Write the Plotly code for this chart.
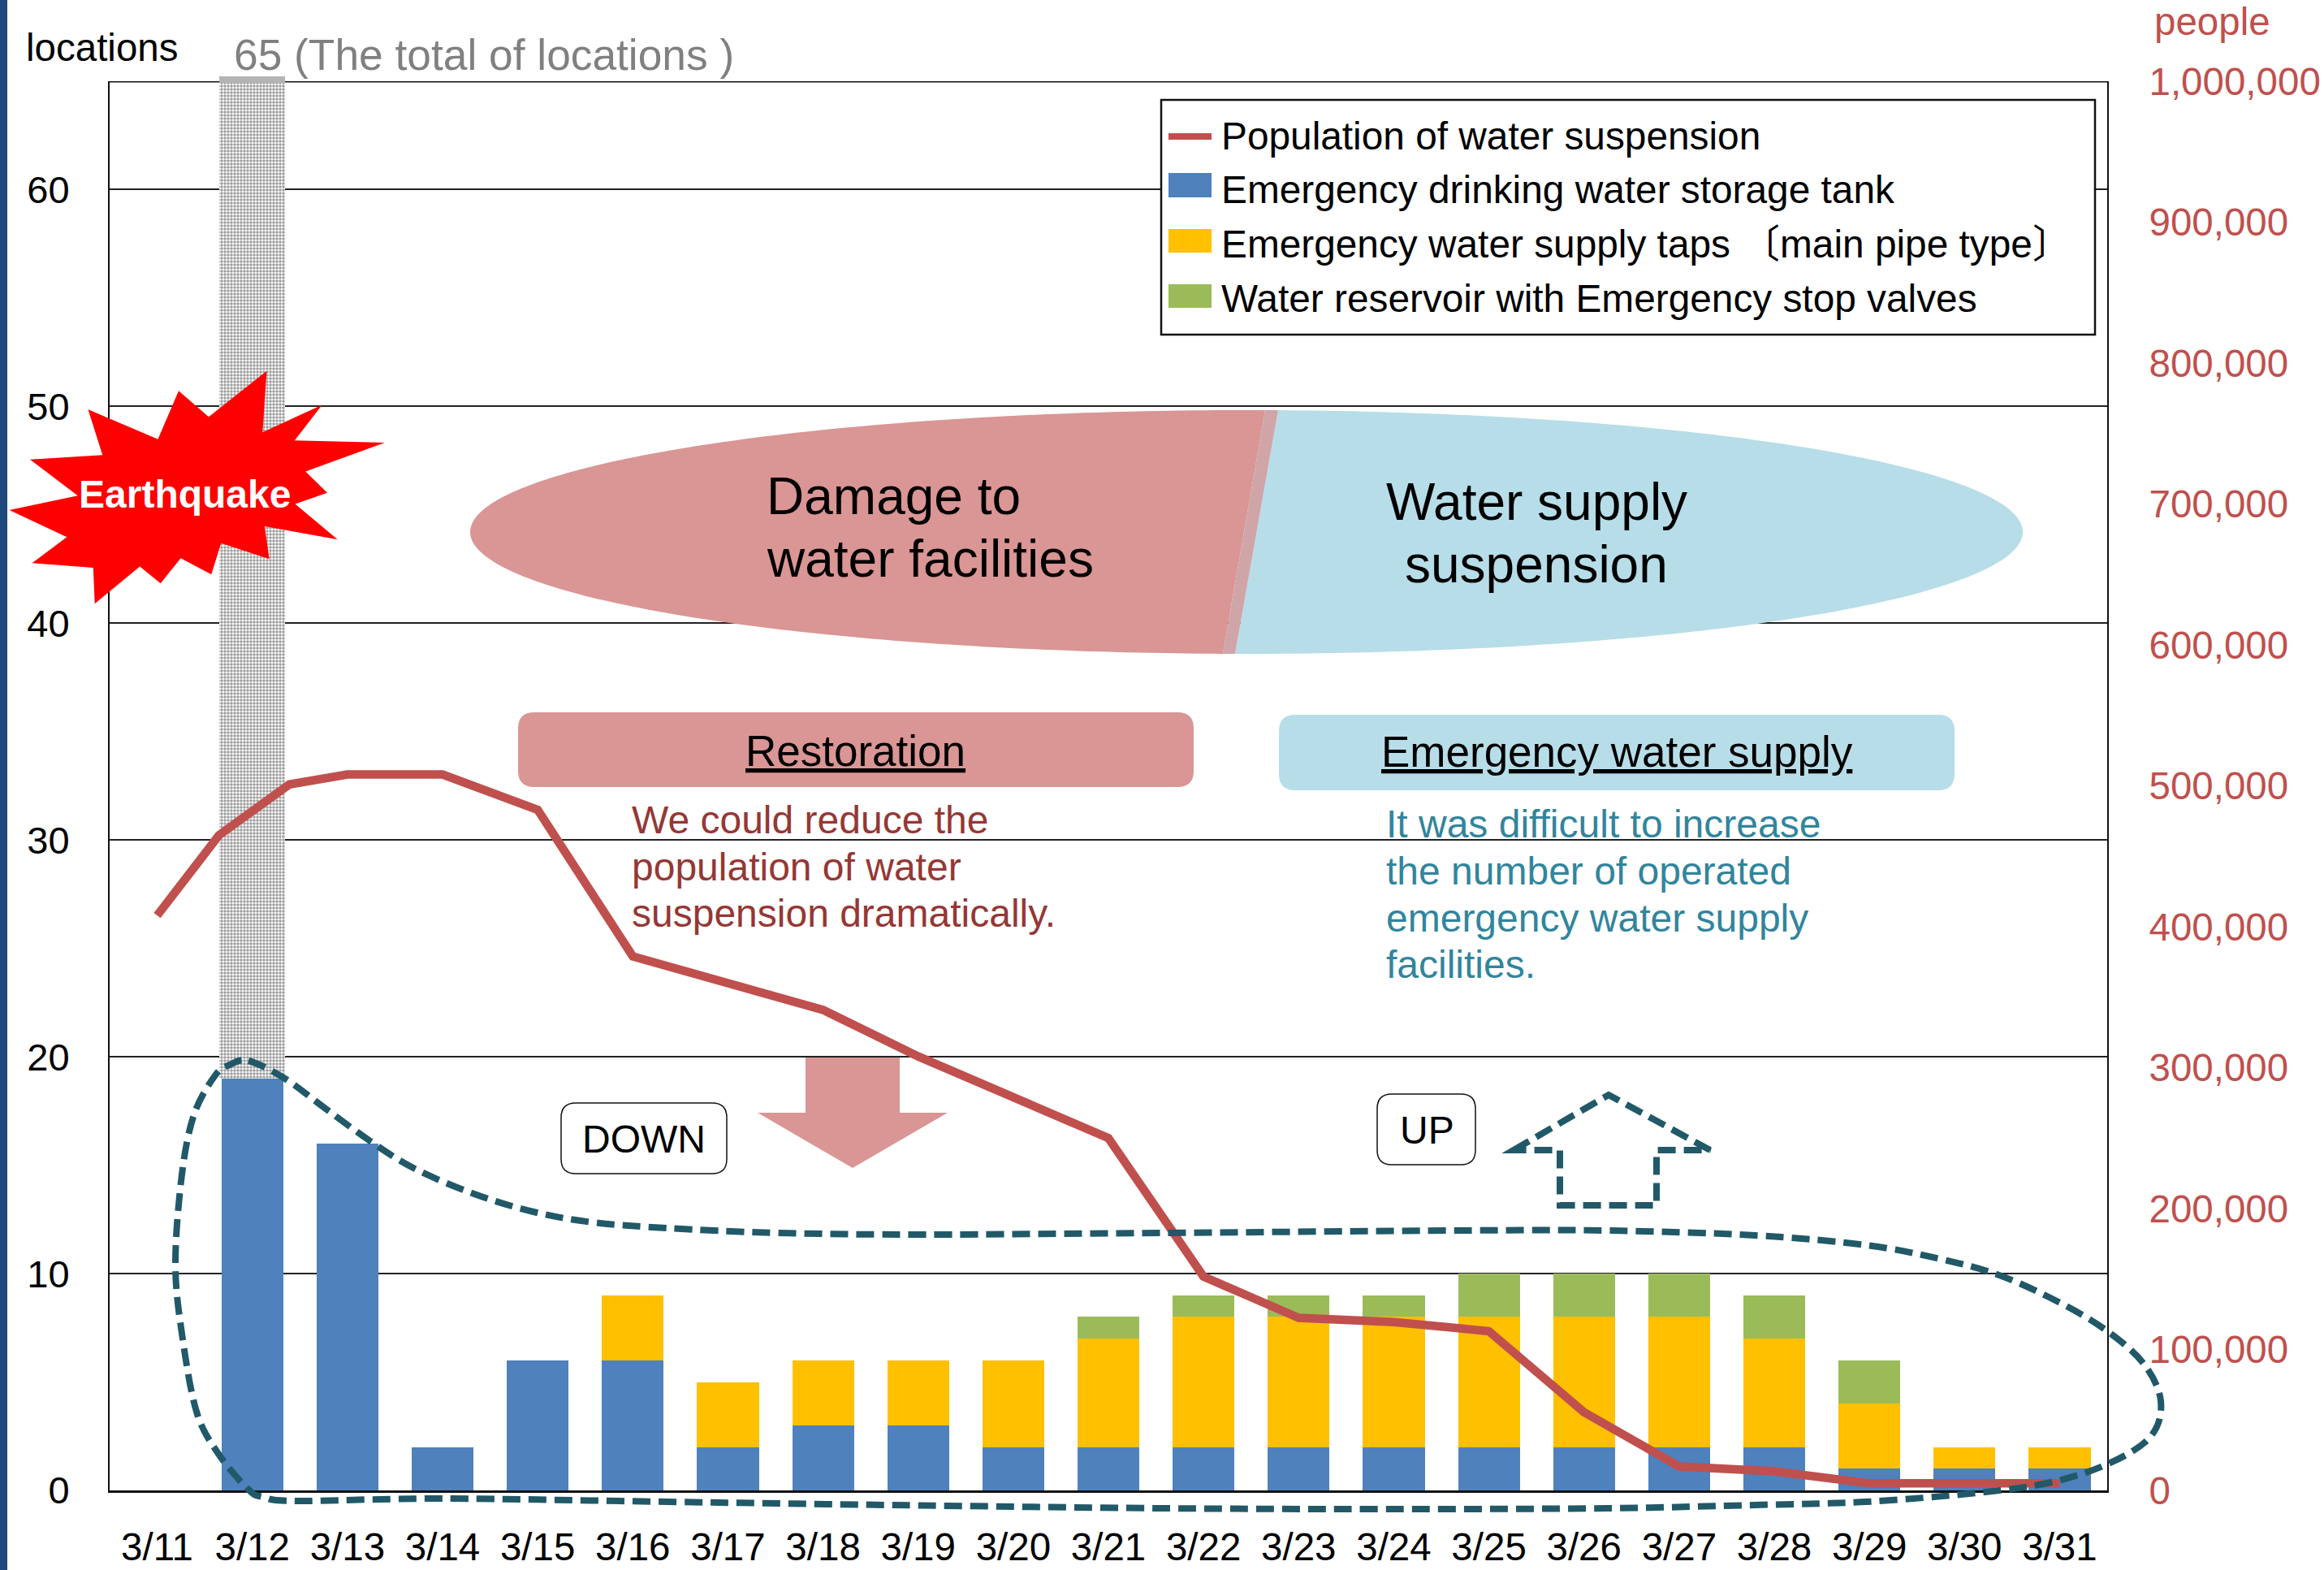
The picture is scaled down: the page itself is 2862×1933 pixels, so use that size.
import math
import numpy as np
import plotly.graph_objects as go

# ---------- data ----------
dates = ["3/11","3/12","3/13","3/14","3/15","3/16","3/17","3/18","3/19","3/20","3/21",
         "3/22","3/23","3/24","3/25","3/26","3/27","3/28","3/29","3/30","3/31"]
storage_tank = [0,19,16,2,6,6,2,3,3,2,2,2,2,2,2,2,2,2,1,1,1]
supply_taps  = [0,0,0,0,0,3,3,3,3,4,5,6,6,6,6,6,6,5,3,1,1]
reservoir    = [0,0,0,0,0,0,0,0,0,0,1,1,1,1,2,2,2,2,2,0,0]
remaining    = [0,46,0,0,0,0,0,0,0,0,0,0,0,0,0,0,0,0,0,0,0]
line_pos = [0,0.65,1.39,2,3,4,5,6,7,8,9,10,11,12,13,14,15,16,17,18,19,20]
population = [408000,465000,501000,508000,508000,483000,379000,360000,341000,308000,279000,
              250000,151700,122500,119500,113000,55500,17000,13500,5000,5000,5000]
left_ticks = [0,10,20,30,40,50,60]
right_ticks = [0,100000,200000,300000,400000,500000,600000,700000,800000,900000,1000000]
legend_labels = ["Population of water suspension","Emergency drinking water storage tank",
                 "Emergency water supply taps 〔main pipe type〕","Water reservoir with Emergency stop valves"]

# ---------- page geometry ----------
W, H = 2862, 1933
L, R, T, B = 135, 2595, 100, 1835
FONT = "Liberation Sans, Arial, Noto Sans CJK JP, sans-serif"
BLUE, YEL, GRN, RED = "#4F81BD", "#FFC000", "#9BBB59", "#C0504D"
PINK, SKY, TEAL = "#D99694", "#B7DDE8", "#215968"

def px(x): return (x - L) / (R - L)
def py(y): return (B - y) / (B - T)
CAT = (R - L) / 21
def dx(x): return (x - L) / CAT - 0.5
def dy(y): return (B - y) / (B - T) * 65

def poly(pts, data=False):
    fx, fy = (dx, dy) if data else (px, py)
    return "M" + "L".join(f"{fx(x):.5f},{fy(y):.5f}" for x, y in pts) + "Z"

def smooth_closed(pts):
    n = len(pts)
    s = f"M{px(pts[0][0]):.5f},{py(pts[0][1]):.5f}"
    for i in range(n):
        p0, p1, p2, p3 = pts[i-1], pts[i], pts[(i+1) % n], pts[(i+2) % n]
        c1 = (p1[0] + (p2[0]-p0[0])/6, p1[1] + (p2[1]-p0[1])/6)
        c2 = (p2[0] - (p3[0]-p1[0])/6, p2[1] - (p3[1]-p1[1])/6)
        s += f"C{px(c1[0]):.5f},{py(c1[1]):.5f} {px(c2[0]):.5f},{py(c2[1]):.5f} {px(p2[0]):.5f},{py(p2[1]):.5f}"
    return s + "Z"

def round_rect(x0, y0, x1, y1, r):
    s = f"M{dx(x0+r):.5f},{dy(y0):.5f}L{dx(x1-r):.5f},{dy(y0):.5f}Q{dx(x1):.5f},{dy(y0):.5f} {dx(x1):.5f},{dy(y0+r):.5f}"
    s += f"L{dx(x1):.5f},{dy(y1-r):.5f}Q{dx(x1):.5f},{dy(y1):.5f} {dx(x1-r):.5f},{dy(y1):.5f}"
    s += f"L{dx(x0+r):.5f},{dy(y1):.5f}Q{dx(x0):.5f},{dy(y1):.5f} {dx(x0):.5f},{dy(y1-r):.5f}"
    s += f"L{dx(x0):.5f},{dy(y0+r):.5f}Q{dx(x0):.5f},{dy(y0):.5f} {dx(x0+r):.5f},{dy(y0):.5f}Z"
    return s

def under(path, fill, line=None, lw=0):
    return dict(type="path", path=path, xref="x", yref="y", layer="between",
                fillcolor=fill, line=dict(color=line or fill, width=lw))

fig = go.Figure()
fig.add_bar(x=list(range(21)), y=storage_tank, name=legend_labels[1], marker=dict(color=BLUE, line_width=0), width=0.65)
fig.add_bar(x=list(range(21)), y=supply_taps, name=legend_labels[2], marker=dict(color=YEL, line_width=0), width=0.65)
fig.add_bar(x=list(range(21)), y=reservoir, name=legend_labels[3], marker=dict(color=GRN, line_width=0), width=0.65)
fig.add_bar(x=list(range(21)), y=remaining, name="The total of locations", width=0.69, cliponaxis=False,
            marker=dict(color="white", line_width=0,
                        pattern=dict(shape=".", fgcolor="#3c3c3c", bgcolor="white", size=4, solidity=0.6)))
fig.add_scatter(x=line_pos, y=population, yaxis="y2", mode="lines", name=legend_labels[0],
                line=dict(color=RED, width=10.5))

# ---------- shapes ----------
shapes = []
shapes.append(dict(type="line", xref="x", yref="y", layer="between", x0=-0.5, x1=20.5, y0=65, y1=65,
                   line=dict(color="#111", width=3)))
# small cap of the dotted column above the frame line
shapes.append(dict(type="rect", xref="paper", yref="paper", layer="above", x0=px(270), x1=px(351), y0=py(102), y1=py(94),
                   fillcolor="#b4b4b4", line_width=0))

# ellipse in three pieces
cx, cy, a, b = 1535, 655, 956, 150
def ell(t): return (cx + a*math.cos(t), cy + b*math.sin(t))
tL, bL, tR, bR = 1558, 1506, 1574, 1521
at = lambda x: math.acos((x-cx)/a)
left = [ell(t) for t in np.linspace(-at(tL), -(2*math.pi - at(bL)), 200)]
right = [ell(t) for t in np.linspace(-at(tR), at(bR), 200)]
mid = [ell(-at(tL)), ell(-at(tR)), ell(at(bR)), ell(at(bL))]
shapes += [under(poly(left, True), PINK), under(poly(right, True), SKY), under(poly(mid, True), "#CFA5A8")]

# labelled bars
shapes.append(under(round_rect(638, 877, 1470, 969, 20), PINK))
shapes.append(under(round_rect(1575, 880, 2407, 973, 20), SKY))
# down arrow
shapes.append(under(poly([(992,1302),(1108,1302),(1108,1370),(1167,1370),(1050,1438),(933,1370),(992,1370)], True), PINK))
# text boxes
shapes.append(under(round_rect(691, 1358, 895, 1445, 18), "white", "#111", 1.5))
shapes.append(under(round_rect(1696, 1347, 1817, 1434, 18), "white", "#111", 1.5))

# side strip
shapes.append(dict(type="rect", xref="paper", yref="paper", layer="above", x0=px(0), x1=px(9), y0=py(H), y1=py(0),
                   fillcolor="#1F497D", line_width=0))

# dashed enclosure
curve = [(306,1306),(351,1328),(401,1365),(456,1405),(511,1439),(584,1470),(657,1492),(730,1505),(821,1512),
         (958,1518),(1141,1520),(1431,1518),(1796,1515),(1978,1515),(2161,1521),(2298,1533),(2389,1550),(2462,1570),
         (2535,1603),(2594,1638),(2640,1679),(2661,1725),(2649,1768),(2599,1801),(2526,1825),(2435,1838),(2298,1849),
         (2161,1853),(1978,1857),(1705,1858),(1431,1857),(1095,1853),(821,1849),(547,1845),(365,1848),(324,1843),
         (306,1834),(269,1790),(242,1738),(224,1642),(216,1555),(224,1446),(239,1372),(265,1324),(283,1311)]
shapes.append(dict(type="path", path=smooth_closed(curve), xref="paper", yref="paper", layer="above",
                   line=dict(color=TEAL, width=8, dash="22px,10px")))
# dashed up arrow
up = [(1864,1416),(1981,1348),(2106,1416),(2040,1416),(2040,1484),(1921,1484),(1921,1416)]
shapes.append(dict(type="path", path=poly(up), xref="paper", yref="paper", layer="above",
                   line=dict(color=TEAL, width=8, dash="22px,10px")))
# star
star = [(170,988),(305,1060),(345,943),(403,1006),(515,895),(507,1043),(622,977),(569,1063),(743,1068),(590,1138),
        (632,1189),(570,1216),(652,1302),(511,1270),(520,1349),(427,1311),(408,1386),(349,1347),(310,1408),(270,1367),
        (183,1457),(180,1370),(62,1359),(129,1296),(18,1231),(150,1196),(58,1109),(198,1098)]
shapes.append(dict(type="path", path=poly([(x/1.568, y/1.96) for x, y in star]), xref="paper", yref="paper",
                   layer="above", fillcolor="#FF0000", line_width=0))

# legend box and swatches
shapes.append(dict(type="rect", xref="paper", yref="paper", layer="above", x0=px(1430), x1=px(2580), y0=py(412), y1=py(123),
                   fillcolor="white", line=dict(color="#111", width=2.5)))
shapes.append(dict(type="rect", xref="paper", yref="paper", layer="above", x0=px(1439), x1=px(1492), y0=py(172), y1=py(164),
                   fillcolor=RED, line_width=0))
for (t, bm), c in zip([(213,243),(282,311),(350,379)], [BLUE, YEL, GRN]):
    shapes.append(dict(type="rect", xref="paper", yref="paper", layer="above", x0=px(1439), x1=px(1492), y0=py(bm), y1=py(t),
                       fillcolor=c, line_width=0))

# ---------- texts ----------
ann = []
def text(x, y, s, size=47, color="black", anchor="left"):
    ann.append(dict(x=px(x), y=py(y), xref="paper", yref="paper", text=s, showarrow=False, xanchor=anchor, yanchor="middle",
                    font=dict(family=FONT, size=size, color=color), borderpad=0))

text(31, 58, "locations", 47.5)
text(287, 67, "65 (The total of locations )", 53.3, "#808080")
text(2652, 27, "people", 47.5, RED)
text(227, 608, "<b>Earthquake</b>", 48, "white", "center")
for lab, y in zip(legend_labels, [167, 233, 300, 367]):
    text(1503, y, lab, 47.8)
text(943, 611, "Damage to", 64)
text(943, 688, "water facilities", 64)
text(1892, 618, "Water supply", 64, "black", "center")
text(1892, 695, "suspension", 64, "black", "center")
text(1053, 924, "<u>Restoration</u>", 53, "black", "center")
text(1991, 925, "<u>Emergency water supply</u>", 53, "black", "center")
for s, y in zip(["We could reduce the","population of water","suspension dramatically."], [1009,1067,1125]):
    text(777, y, s, 48, "#953735")
for s, y in zip(["It was difficult to increase","the number of operated","emergency water supply","facilities."], [1014,1072,1130,1187]):
    text(1706, y, s, 48, "#31859C")
text(793, 1402, "DOWN", 48, "black", "center")
text(1757, 1391, "UP", 48, "black", "center")

fig.update_layout(
    width=W, height=H, barmode="stack", showlegend=False,
    margin=dict(l=L, r=W-R, t=T, b=H-B, autoexpand=False),
    paper_bgcolor="white", plot_bgcolor="white",
    font=dict(family=FONT, size=47, color="black"),
    xaxis=dict(range=[-0.5, 20.5], tickmode="array", tickvals=list(range(21)), ticktext=dates, showgrid=False, zeroline=False,
               showline=True, linecolor="#111", linewidth=3, ticks="", ticklabelstandoff=26, tickfont=dict(size=47.5)),
    yaxis=dict(range=[0, 65], tickmode="array", tickvals=left_ticks, showgrid=True, gridcolor="#222", gridwidth=2, zeroline=False,
               showline=True, linecolor="#111", linewidth=2, ticks="", ticklabelstandoff=38, tickfont=dict(size=47)),
    yaxis2=dict(range=[0, 1000000], overlaying="y", side="right", anchor="x", tickmode="array", tickvals=right_ticks, tickformat=",",
                showgrid=False, zeroline=False, showline=True, linecolor="#111", linewidth=2, ticks="",
                ticklabelstandoff=40, tickfont=dict(size=47.5, color=RED)),
    shapes=shapes, annotations=ann,
)
fig.write_html("out.html", config=dict(displayModeBar=False),
               post_script="document.body.style.margin='0';document.body.style.overflow='hidden';document.body.style.textDecorationSkipInk='none';")
